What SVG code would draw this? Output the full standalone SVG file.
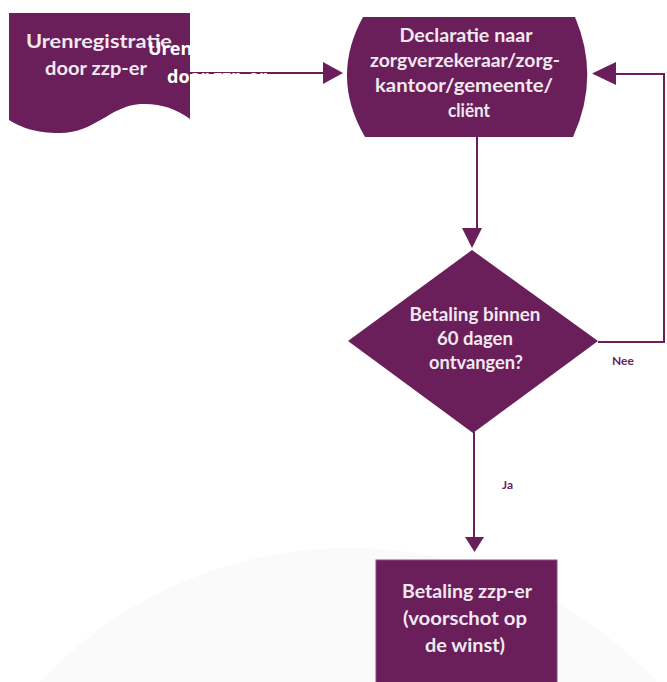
<svg xmlns="http://www.w3.org/2000/svg" width="667" height="682" viewBox="0 0 667 682">
<style>
.node{fill:#6a1e5a;}
.lbl{font-family:Lato,"Liberation Sans",sans-serif;font-weight:bold;font-size:19px;fill:#f1e9f0;text-anchor:middle;}
.edge{fill:none;stroke:#6a1e5a;stroke-width:2;}
.head{fill:#6a1e5a;}
.elbl{font-family:Lato,"Liberation Sans",sans-serif;font-weight:bold;font-size:12px;fill:#6a1e5a;}
.ghost{font-family:"Open Sans","DejaVu Sans",sans-serif;font-weight:bold;font-size:18px;fill:#ffffff;}
</style>
<rect x="0" y="0" width="667" height="682" fill="#ffffff"/>
<circle cx="348.5" cy="970" r="422" fill="#fafafa"/>
<g id="connectors">
  <line class="edge" x1="190" y1="73" x2="325" y2="73"/>
  <polygon class="head" points="323,62 343,73 323,84"/>
  <line class="edge" x1="477" y1="137" x2="477" y2="230"/>
  <polygon class="head" points="462,228 482,228 472,248"/>
  <polyline class="edge" points="598,342 664,342 664,74 614,74"/>
  <polygon class="head" points="616,62 592,73.5 616,85"/>
  <line class="edge" x1="474" y1="432" x2="474" y2="540"/>
  <polygon class="head" points="465,537 484,537 474.5,552"/>
  <text class="elbl" x="612" y="365">Nee</text>
  <text class="elbl" x="502" y="489">Ja</text>
</g>
<g id="node-urenregistratie">
  <path class="node" d="M9,13 H190 V119 C175,108 160,103 140,104 C110,106 95,133 60,133 C35,133 20,127 9,120 Z"/>
  <text class="lbl" x="99" y="48" font-size="21" textLength="146" lengthAdjust="spacingAndGlyphs">Urenregistratie</text>
  <text class="lbl" x="96" y="75" font-size="21" textLength="102" lengthAdjust="spacingAndGlyphs">door zzp-er</text>
  <text class="ghost" x="148" y="55">Urenregistratie</text>
  <text class="ghost" x="167" y="83">door zzp-er</text>
</g>
<g id="node-declaratie">
  <path class="node" d="M363,17 H575 Q600.5,77 573,137 H365 Q330,77 363,17 Z"/>
  <text class="lbl" x="466" y="42" textLength="133" lengthAdjust="spacingAndGlyphs">Declaratie naar</text>
  <text class="lbl" x="465" y="67" textLength="190" lengthAdjust="spacingAndGlyphs">zorgverzekeraar/zorg-</text>
  <text class="lbl" x="464" y="92" textLength="178" lengthAdjust="spacingAndGlyphs">kantoor/gemeente/</text>
  <text class="lbl" x="469" y="117" textLength="42" lengthAdjust="spacingAndGlyphs">cliënt</text>
</g>
<g id="node-betaling-check">
  <polygon class="node" points="472,250 598,341 473,433 348,341"/>
  <text class="lbl" x="475" y="321" textLength="131" lengthAdjust="spacingAndGlyphs">Betaling binnen</text>
  <text class="lbl" x="475" y="345" textLength="76" lengthAdjust="spacingAndGlyphs">60 dagen</text>
  <text class="lbl" x="476" y="369" textLength="94" lengthAdjust="spacingAndGlyphs">ontvangen?</text>
</g>
<g id="node-betaling-zzp">
  <rect class="node" x="376" y="560" width="181" height="130" stroke="#8a4d7e" stroke-width="1"/>
  <text class="lbl" x="467" y="598" textLength="130" lengthAdjust="spacingAndGlyphs">Betaling zzp-er</text>
  <text class="lbl" x="465" y="625" textLength="124" lengthAdjust="spacingAndGlyphs">(voorschot op</text>
  <text class="lbl" x="465" y="652" textLength="80" lengthAdjust="spacingAndGlyphs">de winst)</text>
</g>
</svg>
